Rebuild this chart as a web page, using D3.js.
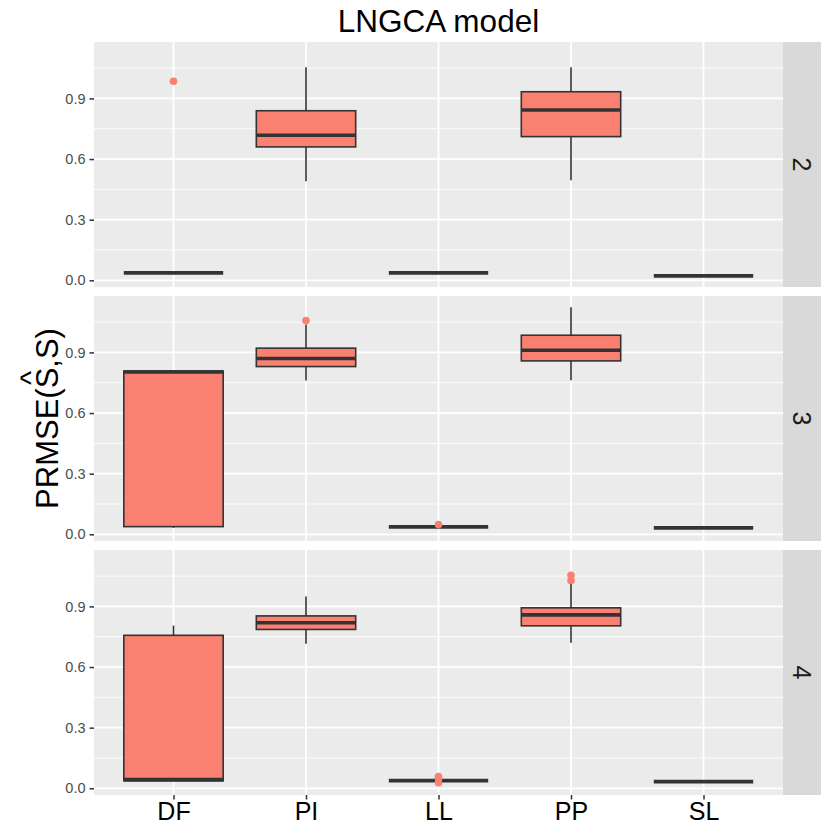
<!DOCTYPE html>
<html>
<head>
<meta charset="utf-8">
<script src="https://cdn.jsdelivr.net/npm/d3@7"></script>
<style>
  body { margin: 0; background: #fff; }
  text { font-family: "Liberation Sans", Arial, sans-serif; }
</style>
</head>
<body>
<div id="chart"></div>
<script>
// methods on the x axis and the facet rows
const methods = ["DF", "PI", "LL", "PP", "SL"];
const facets = ["2", "3", "4"];

// per facet, per method: [lower whisker, q1, median, q3, upper whisker]
const stats2 = [
    [0.037, 0.037, 0.037, 0.037, 0.037],
    [0.490, 0.660, 0.718, 0.839, 1.054],
    [0.037, 0.037, 0.037, 0.037, 0.037],
    [0.495, 0.711, 0.843, 0.933, 1.054],
    [0.022, 0.022, 0.022, 0.022, 0.022]
];
const stats3 = [
    [0.032, 0.038, 0.803, 0.808, 0.812],
    [0.761, 0.830, 0.870, 0.921, 1.038],
    [0.037, 0.037, 0.037, 0.037, 0.037],
    [0.762, 0.858, 0.911, 0.985, 1.124],
    [0.032, 0.032, 0.032, 0.032, 0.032]
];
const stats4 = [
    [0.035, 0.037, 0.043, 0.757, 0.805],
    [0.715, 0.786, 0.819, 0.853, 0.949],
    [0.038, 0.038, 0.038, 0.038, 0.038],
    [0.720, 0.804, 0.858, 0.893, 1.020],
    [0.033, 0.033, 0.033, 0.033, 0.033]
];

// outlier points per facet, per method
const outliers2 = [[0.985], [], [], [], []];
const outliers3 = [[], [1.058], [0.048], [], []];
const outliers4 = [[], [], [0.058, 0.050, 0.028], [1.054, 1.028], []];

const yTicks = [0.0, 0.3, 0.6, 0.9];
const yMinor = [0.15, 0.45, 0.75, 1.05];

const allStats = [stats2, stats3, stats4];
const allOutliers = [outliers2, outliers3, outliers4];

const W = 830, H = 830;
const left = 94, right = 783, stripW = 38;
const panelTops = [42, 296, 550], panelH = 245;
const fill = "#FA8072", ink = "#333333";

const svg = d3.select("#chart").append("svg")
    .attr("width", W).attr("height", H)
    .attr("viewBox", [0, 0, W, H]);

// shared y domain with ggplot-style 5% expansion
const values = allStats.flat(2).concat(allOutliers.flat(2));
const lo = d3.min(values), hi = d3.max(values);
const pad = (hi - lo) * 0.05;

const x = d3.scalePoint().domain(methods).range([left, right]).padding(0.6);
const boxW = x.step() * 0.75;

facets.forEach((f, i) => {
    const top = panelTops[i];
    const y = d3.scaleLinear().domain([lo - pad, hi + pad]).range([top + panelH, top]);
    const g = svg.append("g");

    g.append("rect").attr("x", left).attr("y", top)
        .attr("width", right - left).attr("height", panelH).attr("fill", "#EBEBEB");

    // grid
    g.selectAll(".minor").data(yMinor).join("line")
        .attr("x1", left).attr("x2", right)
        .attr("y1", d => y(d)).attr("y2", d => y(d))
        .attr("stroke", "#fff").attr("stroke-width", 0.9);
    g.selectAll(".major").data(yTicks).join("line")
        .attr("x1", left).attr("x2", right)
        .attr("y1", d => y(d)).attr("y2", d => y(d))
        .attr("stroke", "#fff").attr("stroke-width", 1.8);
    g.selectAll(".vgrid").data(methods).join("line")
        .attr("x1", d => x(d)).attr("x2", d => x(d))
        .attr("y1", top).attr("y2", top + panelH)
        .attr("stroke", "#fff").attr("stroke-width", 1.8);

    // y axis
    const yAxis = g.append("g").attr("transform", `translate(${left},0)`)
        .call(d3.axisLeft(y).tickValues(yTicks).tickFormat(d3.format(".1f")).tickSizeOuter(0).tickSize(4.5).tickPadding(4));
    yAxis.select(".domain").remove();
    yAxis.selectAll(".tick line").attr("stroke", "#333").attr("stroke-width", 1.5);
    yAxis.selectAll(".tick text").attr("fill", "#4D4D4D").style("font-size", "14.5px")
        .style("font-family", "Liberation Sans, Arial, sans-serif");

    const stats = allStats[i];
    const boxes = g.selectAll(".box").data(methods.map((m, j) => ({ m, s: stats[j], o: allOutliers[i][j] })))
        .join("g");

    // whiskers
    boxes.append("line")
        .attr("x1", d => x(d.m)).attr("x2", d => x(d.m))
        .attr("y1", d => y(d.s[3])).attr("y2", d => y(d.s[4]))
        .attr("stroke", ink).attr("stroke-width", 1.6);
    boxes.append("line")
        .attr("x1", d => x(d.m)).attr("x2", d => x(d.m))
        .attr("y1", d => y(d.s[0])).attr("y2", d => y(d.s[1]))
        .attr("stroke", ink).attr("stroke-width", 1.6);

    // box
    boxes.append("rect")
        .attr("x", d => x(d.m) - boxW / 2).attr("width", boxW)
        .attr("y", d => y(d.s[3])).attr("height", d => y(d.s[1]) - y(d.s[3]))
        .attr("fill", fill).attr("stroke", ink).attr("stroke-width", 1.6);

    // median
    boxes.append("line")
        .attr("x1", d => x(d.m) - boxW / 2).attr("x2", d => x(d.m) + boxW / 2)
        .attr("y1", d => y(d.s[2])).attr("y2", d => y(d.s[2]))
        .attr("stroke", ink).attr("stroke-width", 3.6);

    // outliers
    boxes.each(function(d) {
        d3.select(this).selectAll("circle").data(d.o).join("circle")
            .attr("cx", x(d.m)).attr("cy", v => y(v)).attr("r", 3.8)
            .attr("fill", fill);
    });

    // strip
    svg.append("rect").attr("x", right).attr("y", top)
        .attr("width", stripW).attr("height", panelH).attr("fill", "#D9D9D9");
    svg.append("text")
        .attr("transform", `translate(${right + stripW / 2},${top + panelH / 2}) rotate(90)`)
        .attr("text-anchor", "middle").attr("dy", "0.35em")
        .attr("fill", "#1A1A1A").style("font-size", "25px").text(f);
});

// x axis at bottom
const bottom = panelTops[2] + panelH;
const xAxis = svg.append("g").attr("transform", `translate(0,${bottom})`)
    .call(d3.axisBottom(x).tickSizeOuter(0).tickSize(4.5).tickPadding(3));
xAxis.select(".domain").remove();
xAxis.selectAll(".tick line").attr("stroke", "#333").attr("stroke-width", 1.5);
xAxis.selectAll(".tick text").attr("fill", "#000").style("font-size", "25px")
    .style("font-family", "Liberation Sans, Arial, sans-serif");

// title
svg.append("text").attr("x", (left + right) / 2).attr("y", 31.5)
    .attr("text-anchor", "middle").style("font-size", "31.5px").attr("fill", "#000")
    .text("LNGCA model");

// y axis title with a hat over the first S
const midY = (panelTops[0] + bottom) / 2;
const ylab = svg.append("g").attr("transform", `translate(58,${midY}) rotate(-90)`);
const ytxt = ylab.append("text").attr("text-anchor", "middle")
    .style("font-size", "31px").attr("fill", "#000")
    .text("PRMSE(S,S)");
const sStart = ytxt.node().getStartPositionOfChar(6).x;
const sEnd = ytxt.node().getEndPositionOfChar(6).x;
ylab.append("text").attr("x", (sStart + sEnd) / 2).attr("y", -17)
    .attr("text-anchor", "middle").style("font-size", "30px").attr("fill", "#000")
    .text("^");
</script>
</body>
</html>
